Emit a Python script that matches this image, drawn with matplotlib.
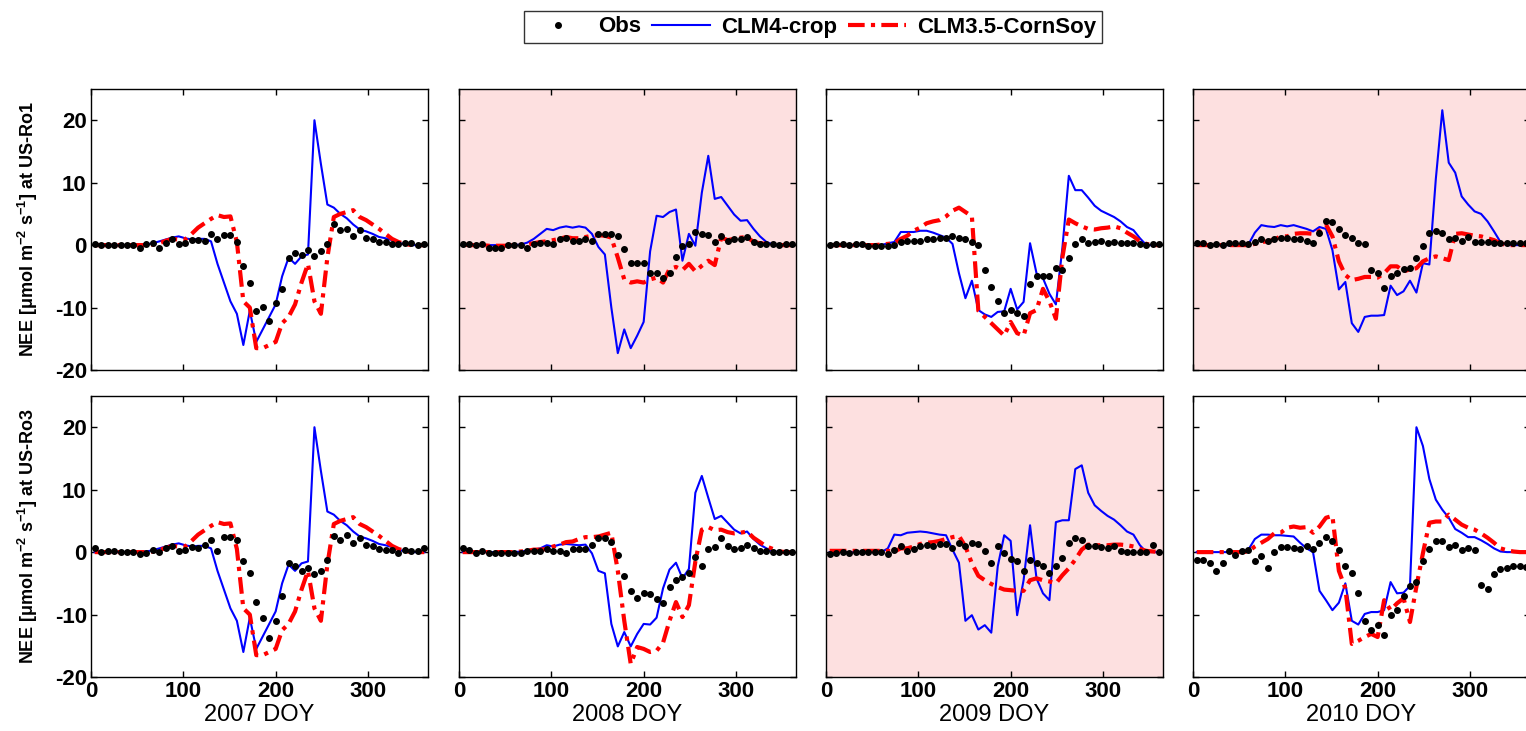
import numpy as np
import matplotlib
matplotlib.use('Agg')
import matplotlib.pyplot as plt
from matplotlib.lines import Line2D

plt.rcParams['font.family'] = ['Liberation Sans', 'DejaVu Sans']
plt.rcParams['font.weight'] = 'bold'
plt.rcParams['axes.labelweight'] = 'bold'
plt.rcParams['axes.unicode_minus'] = False
plt.rcParams['mathtext.fontset'] = 'custom'
plt.rcParams['mathtext.bf'] = 'Liberation Sans:bold'
plt.rcParams['mathtext.rm'] = 'Liberation Sans:bold'
plt.rcParams['mathtext.default'] = 'bf'

# weekly day-of-year grid (52 values)
doy = np.arange(4, 365, 7)

years = ['2007', '2008', '2009', '2010']
sites = ['US-Ro1', 'US-Ro3']

### 2007 (model runs are the same for both sites) ###
clm4_2007 = [0, 0, 0, 0, 0, 0, 0, 0, 0.1, 0.3, 0.6, 0.9, 1.2, 1.4, 1.1, 0.9, 1.0, 1.0, 0.6, -3.0,
             -6.0, -9.0, -11.0, -16.0, -10.5, -15.5, -13.5, -11.5, -9.5, -5.0, -2.0, -3.0, -1.8, -1.5, 20.0, 13.0,
             6.5, 6.0, 5.0, 4.3, 3.3, 2.5, 2.2, 1.8, 1.3, 1.1, 0.8, 0.4, 0.1, 0, 0, 0]
clm35_2007 = [0, 0, 0, 0, 0, 0, 0, 0, 0, 0.1, 0.3, 0.7, 1.0, 0.9, 0.9, 1.8, 2.8, 3.5, 4.2, 4.8,
              4.5, 4.6, 0.5, -9.0, -10.0, -16.5, -16.5, -16.0, -15.5, -12.5, -11.5, -9.5, -6.0, -3.0, -9.0, -11.0,
              -2.0, 4.5, 5.0, 5.3, 5.6, 4.5, 4.0, 3.3, 2.6, 1.8, 1.0, 0.5, 0.2, 0, 0, 0]
obs_ro1_2007 = [0.2, 0, 0, 0, 0, 0, 0, -0.4, 0.2, 0.3, -0.4, 0.3, 0.9, 0.2, 0.3, 0.8, 0.8, 0.6, 1.8, 1.0,
                1.6, 1.6, 0.5, -3.3, -6.1, -10.5, -9.9, -12.1, -9.3, -7.0, -2.1, -1.3, -1.6, -0.8, -1.8, -1.0,
                0.2, 3.4, 2.4, 2.5, 1.5, 2.4, 1.1, 1.0, 0.5, 0.5, 0.2, 0.2, 0.4, 0.3, 0.0, 0.1]
obs_ro3_2007 = [0.6, 0, 0.1, 0.2, 0, 0, 0, -0.3, -0.2, 0.3, 0, 0.6, 1.0, 0.1, 0.3, 0.8, 0.6, 1.1, 1.9, 0.2,
                2.4, 2.4, 2.0, -1.4, -3.3, -8.0, -10.6, -13.7, -11.1, -7.0, -1.8, -2.2, -3.0, -2.5, -3.5, -3.1,
                -1.2, 2.6, 1.9, 2.8, 1.5, 2.2, 1.1, 0.9, 0.5, 0.3, 0.3, -0.2, 0.4, 0.1, 0.1, 0.6]

### 2008 ###
clm4_ro1_2008 = [0, 0, 0, 0, 0, 0, 0, 0, 0, 0.1, 0.4, 1.0, 1.8, 2.6, 2.4, 2.8, 3.0, 2.8, 3.0, 2.8,
                 1.8, -0.3, -1.5, -10.0, -17.3, -13.5, -16.5, -14.5, -12.3, -1.0, 4.7, 4.5, 5.3, 5.7, -2.5, 1.8,
                 -0.1, 8.4, 14.3, 7.4, 7.7, 6.3, 4.9, 3.9, 4.0, 2.6, 1.4, 0.5, 0.1, 0, 0, 0]
clm35_ro1_2008 = [0.1, 0, 0, 0, -0.1, -0.1, -0.1, -0.1, 0, 0, 0.1, 0.3, 0.5, 0.6, 0.8, 1.0, 1.3, 1.1, 1.1, 1.3,
                  1.5, 1.6, 1.5, 1.2, -2.0, -5.5, -6.0, -5.8, -6.0, -5.5, -5.2, -6.0, -3.8, -3.5, -4.0, -3.0,
                  -4.2, -3.3, -2.5, -3.2, 1.2, 0.8, 1.0, 1.2, 1.3, 0.5, 0.3, 0.2, 0.1, 0, 0, 0]
obs_ro1_2008 = [0.2, 0.1, 0, 0.1, -0.4, -0.4, -0.4, 0, 0, 0, -0.4, 0.2, 0.3, 0.4, 0.2, 1.0, 1.1, 0.7, 0.7, 0.9,
                0.7, 1.8, 1.8, 1.8, 1.5, -0.6, -2.9, -2.9, -2.9, -4.4, -4.5, -5.2, -4.4, -1.9, -0.2, 0.2,
                2.1, 1.7, 1.6, 0.5, 1.4, 0.7, 1.0, 1.0, 1.3, 0.5, 0.2, 0.2, 0.2, 0, 0.2, 0.1]
clm4_ro3_2008 = [0, 0, 0, 0, 0, 0, 0, 0, 0, 0.1, 0.2, 0.4, 0.6, 1.1, 0.9, 1.2, 1.3, 1.2, 1.1, 1.2,
                 -0.2, -3.0, -3.4, -11.5, -15.1, -12.8, -15.1, -13.1, -11.5, -11.6, -10.5, -5.8, -2.8, -1.7, -4.2, -2.7,
                 9.5, 12.2, 8.7, 5.3, 5.8, 4.7, 3.6, 3.0, 3.3, 2.1, 1.2, 0.6, 0.1, 0, 0, 0]
clm35_ro3_2008 = [0, 0, 0, 0, 0, 0, 0, 0, 0, 0.1, 0.2, 0.4, 0.4, 0.5, 0.9, 1.2, 1.6, 1.7, 2.1, 2.4,
                  2.4, 2.5, 2.8, 3.1, -3.0, -11.0, -17.9, -15.2, -15.5, -16.0, -15.8, -14.5, -11.0, -8.0, -10.4, -8.5,
                  -1.5, 3.6, 4.0, 3.5, 3.6, 3.2, 3.0, 3.1, 3.3, 2.3, 1.6, 0.9, 0.5, 0.1, 0, 0]
obs_ro3_2008 = [0.6, 0.4, -0.2, 0.2, -0.2, -0.1, -0.2, -0.2, -0.1, -0.1, 0.1, 0.2, 0.2, 0.5, 0.1, 0.2, -0.2, 0.5, 0.5, 0.5,
                1.1, 2.3, 2.3, 1.6, -0.5, -3.8, -6.2, -7.4, -6.5, -6.7, -7.5, -8.1, -5.6, -4.5, -4.0, -3.3,
                -0.8, -2.3, 0.5, 0.8, 2.3, 1.0, 0.5, 0.6, 1.1, 0.6, 0.1, 0.1, 0, 0, 0, 0]

### 2009 ###
clm4_ro1_2009 = [0, 0, 0, 0, 0, 0, 0, 0, 0, 0.3, 0.5, 2.1, 2.1, 2.1, 2.3, 2.3, 2.0, 1.6, 1.2, 0.2,
                 -4.5, -8.5, -5.7, -10.4, -11.1, -11.5, -10.7, -10.6, -7.0, -10.3, -9.1, 0.3, -4.5, -5.3, -7.8, -9.5,
                 -0.5, 11.1, 8.8, 8.8, 7.6, 6.3, 5.5, 5.0, 4.5, 3.8, 2.9, 2.4, 1.1, 0, 0, 0]
clm35_ro1_2009 = [0, 0, 0, 0, 0, 0, 0, 0, 0.1, 0.2, 0.3, 1.0, 1.5, 2.3, 2.8, 3.5, 3.8, 4.0, 4.6, 5.5,
                  6.0, 5.3, 4.6, -10.5, -11.5, -12.5, -13.5, -14.5, -12.3, -14.1, -14.5, -10.9, -10.4, -7.0, -9.0, -11.8,
                  -2.0, 4.1, 3.5, 3.0, 2.6, 2.5, 2.7, 2.8, 3.0, 2.7, 2.0, 1.4, 0.6, 0.2, 0, 0]
obs_ro1_2009 = [0, 0.1, 0.2, 0, 0.1, 0.1, -0.2, -0.2, -0.2, -0.2, 0, 0.5, 0.6, 0.6, 0.6, 0.9, 0.9, 1.1, 1.1, 1.4,
                1.1, 0.9, 0.5, 0, -4.0, -6.7, -8.9, -10.8, -10.4, -10.8, -11.3, -6.2, -4.9, -4.9, -4.9, -3.6,
                -4.0, -2.0, 0.2, 1.0, 0.3, 0.5, 0.6, 0.3, 0.5, 0.3, 0.3, 0.3, 0.2, 0, 0.1, 0.1]
clm4_ro3_2009 = [0, 0, 0, 0, 0, 0, 0, 0, 0, 0.6, 2.8, 2.7, 3.1, 3.2, 3.3, 3.2, 3.0, 2.8, 2.7, 0.4,
                 -1.7, -11.0, -10.1, -12.4, -11.7, -12.9, -2.3, 2.7, 1.8, -10.1, -4.5, 4.3, -4.2, -6.6, -7.7, 4.8,
                 5.1, 5.1, 13.3, 13.9, 9.5, 7.5, 6.6, 5.8, 5.2, 4.3, 3.3, 2.8, 1.1, 0, 0, 0]
clm35_ro3_2009 = [0.2, 0.2, 0.2, 0.2, 0.2, 0.2, 0.2, 0.2, 0.2, 0.2, 0.1, 0.6, 0.6, 0.9, 1.3, 1.5, 1.6, 1.8, 2.1, 2.4,
                  2.6, 0.9, -1.8, -3.8, -4.5, -5.1, -5.6, -6.0, -6.1, -6.2, -6.2, -4.5, -4.2, -4.5, -4.7, -5.0,
                  -3.7, -2.6, -1.2, 0.4, 1.2, 1.1, 1.1, 1.1, 1.2, 1.2, 1.1, 0.9, 0.5, 0.2, 0.1, 0]
obs_ro3_2009 = [-0.3, -0.2, 0, -0.2, 0, 0, 0, 0, 0, -0.3, 0.4, 0.9, 0.2, 0.5, 0.9, 1.1, 0.9, 1.3, 1.3, 0.6,
                1.5, 0.9, 1.5, 1.3, 0.1, -1.7, 0.9, -0.2, -1.1, -1.5, -3.0, -1.3, -1.8, -2.3, -3.3, -2.3,
                -1.0, 1.5, 2.3, 2.0, 0.9, 0.9, 0.8, 0.6, 0.9, 0.2, 0, 0, 0, 0, 1.2, 0]

### 2010 ###
clm4_ro1_2010 = [0, 0, 0, 0, 0, 0, 0, 0, 0.1, 2.0, 3.2, 3.0, 2.9, 3.2, 3.0, 3.2, 2.9, 2.6, 2.2, 2.9,
                 2.6, -0.8, -7.1, -5.9, -12.5, -13.9, -11.5, -11.3, -11.3, -11.2, -6.5, -8.0, -7.4, -5.7, -7.6, -2.9,
                 -3.1, 10.6, 21.6, 13.2, 11.6, 7.8, 6.5, 5.4, 5.0, 3.8, 2.2, 0.5, 0, 0, 0, 0]
clm35_ro1_2010 = [0, 0, 0, 0, 0, 0, 0, 0, 0, 0.2, 0.5, 0.6, 0.9, 1.4, 1.4, 1.8, 1.9, 1.9, 1.8, 2.3,
                  3.3, 1.4, -2.6, -4.8, -5.6, -5.4, -5.1, -5.1, -5.2, -4.5, -3.4, -3.4, -4.2, -3.9, -3.7, -2.6,
                  -2.1, -1.8, -2.1, -2.4, 1.8, 1.9, 1.7, 1.5, 1.4, 1.1, 0.8, 0.3, 0, 0, 0, 0]
obs_ro1_2010 = [0.3, 0.3, 0, 0.1, 0, 0.3, 0.3, 0.3, 0.2, 0.5, 0.9, 0.7, 0.9, 1.1, 1.1, 0.9, 0.9, 0.7, 0.3, 2.0,
                3.9, 3.7, 2.5, 1.6, 1.2, 0.3, 0.1, -4.0, -4.5, -6.8, -5.0, -4.5, -3.8, -3.7, -2.1, -0.1,
                1.9, 2.3, 1.9, 1.0, 1.1, 0.7, 1.3, 0.5, 0.5, 0.5, 0.4, 0.3, 0.3, 0.3, 0.3, 0.3]
clm4_ro3_2010 = [0, 0, 0, 0, 0, 0, 0, 0, 0.4, 2.1, 2.8, 2.8, 2.7, 2.7, 2.6, 2.5, 1.5, 0.6, 0, -6.2,
                 -7.7, -9.3, -8.1, -5.0, -11.0, -11.6, -9.9, -9.6, -9.6, -9.3, -4.8, -6.6, -6.5, -5.4, 20.0, 17.0,
                 11.7, 8.4, 6.8, 5.5, 3.7, 3.1, 2.4, 2.4, 1.9, 1.3, 0.6, 0.1, 0, 0, 0, 0]
clm35_ro3_2010 = [0, 0, 0, 0, 0, 0, 0, 0, 0.1, 0.9, 1.5, 2.1, 3.0, 3.1, 3.9, 4.1, 3.9, 4.0, 3.1, 4.1,
                  5.5, 5.8, -3.0, -5.8, -14.7, -14.2, -13.6, -13.1, -13.6, -7.7, -9.3, -8.2, -7.4, -11.2, -5.5, -0.2,
                  4.7, 4.9, 4.9, 6.0, 5.2, 4.4, 3.9, 3.6, 3.0, 2.3, 1.5, 0.6, 0.3, 0.1, 0, 0]
obs_ro3_2010 = [-1.2, -1.3, -1.8, -3.1, -1.8, 0.1, -0.5, 0.2, 0.3, -1.5, -0.7, -2.5, 0, 0.8, 0.8, 0.6, 0.5, 0.9, 0.5, 1.5,
                2.4, 1.8, 0.3, -2.3, -3.4, -6.5, -11.0, -12.5, -11.6, -13.3, -10.1, -9.3, -7.0, -5.5, -4.8, -1.5,
                0.5, 1.7, 1.8, 0.8, 1.1, 0.3, 0.6, 0.3, -5.2, -5.9, -3.5, -2.7, -2.6, -2.2, -2.2, -2.4]

# (obs, clm4, clm3.5) per row/col
panels = [
    [(obs_ro1_2007, clm4_2007, clm35_2007), (obs_ro1_2008, clm4_ro1_2008, clm35_ro1_2008),
     (obs_ro1_2009, clm4_ro1_2009, clm35_ro1_2009), (obs_ro1_2010, clm4_ro1_2010, clm35_ro1_2010)],
    [(obs_ro3_2007, clm4_2007, clm35_2007), (obs_ro3_2008, clm4_ro3_2008, clm35_ro3_2008),
     (obs_ro3_2009, clm4_ro3_2009, clm35_ro3_2009), (obs_ro3_2010, clm4_ro3_2010, clm35_ro3_2010)],
]
shaded = [(0, 1), (0, 3), (1, 2)]

W, H = 1526, 731
lefts = [91, 459, 826, 1193]
tops = [89, 396]
pw, ph = 337, 281
red_dash = (0, (4, 1.5, 1, 1.5))

fig = plt.figure(figsize=(W / 100, H / 100), dpi=100)
for r in range(2):
    for c in range(4):
        ax = fig.add_axes([lefts[c] / W, 1 - (tops[r] + ph) / H, pw / W, ph / H])
        obs, m4, m35 = panels[r][c]
        if (r, c) in shaded:
            ax.set_facecolor('#fde0e0')
        ax.plot(doy, m4, color='#0000ff', lw=1.5, zorder=2)
        ax.plot(doy, m35, color='#ff0000', lw=3, linestyle=red_dash, zorder=2)
        ax.plot(doy, obs, 'o', color='black', ms=4, zorder=3)
        ax.set_xlim(0, 365)
        ax.set_ylim(-20, 25)
        ax.set_xticks([0, 100, 200, 300])
        ax.set_yticks([-20, -10, 0, 10, 20])
        ax.tick_params(direction='in', top=True, right=True, length=4, width=1,
                       labelsize=16, pad=3)
        for s in ax.spines.values():
            s.set_linewidth(1)
        if r == 0:
            ax.set_xticklabels([])
        else:
            ax.set_xlabel(years[c] + ' DOY', fontsize=17, fontweight='normal', labelpad=1)
        if c > 0:
            ax.set_yticklabels([])
        else:
            ax.set_ylabel('NEE [μmol m$^{-2}$ s$^{-1}$] at ' + sites[r], fontsize=13, fontweight='bold')
            ax.yaxis.set_label_coords(-0.15, 0.5)

handles = [Line2D([], [], marker='.', ls='none', color='black', ms=8),
           Line2D([], [], color='#0000ff', lw=1.5),
           Line2D([], [], color='#ff0000', lw=3, linestyle=red_dash)]
leg = fig.legend(handles, ['Obs', 'CLM4-crop', 'CLM3.5-CornSoy'], loc='center',
                 bbox_to_anchor=(813 / W, 1 - 27 / H), ncol=3, fontsize=16,
                 frameon=True, fancybox=False, edgecolor='black', handlelength=2.6,
                 columnspacing=0.5, handletextpad=0.5, borderpad=0.25)
leg.get_frame().set_linewidth(1)

fig.savefig('out.png', dpi=100)
